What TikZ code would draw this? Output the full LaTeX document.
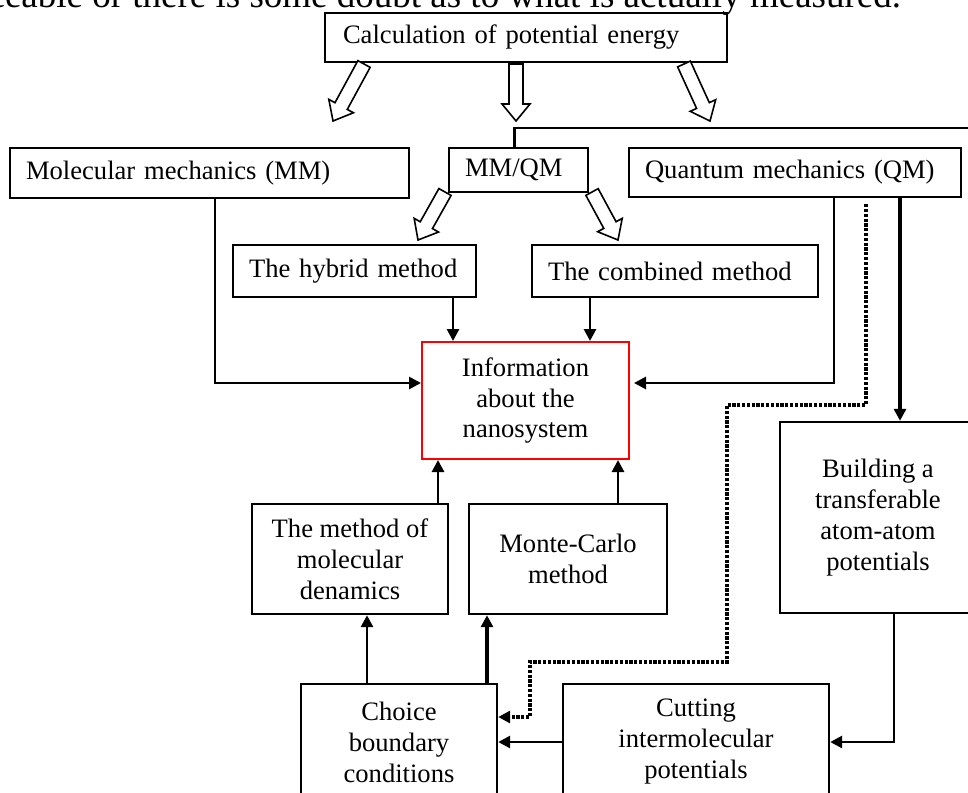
\documentclass[tikz,border=0pt]{standalone}
\usepackage{fontspec}
\setmainfont{Liberation Serif}
\usetikzlibrary{arrows.meta,calc}

\newcommand{\hollowarrow}[2]{%
  \coordinate (neck) at ($(#2)!8.5pt!(#1)$);
  \draw[hollow] ($(#1)!3.5pt!90:(#2)$) -- ($(neck)!3.5pt!90:(#2)$) -- ($(neck)!7pt!90:(#2)$) -- (#2)
    -- ($(neck)!7pt!-90:(#2)$) -- ($(neck)!3.5pt!-90:(#2)$) -- ($(#1)!3.5pt!-90:(#2)$) -- cycle;}

\begin{document}
\begin{tikzpicture}[
x=0.5pt, y=-0.5pt,
font=\fontsize{13.3}{15.5}\selectfont,
block/.style={draw, line width=1.2pt, inner sep=0pt, align=center},
lblock/.style={block, align=left, inner xsep=8pt},
arrow/.style={-{Triangle[length=6pt,width=6pt]}, line width=1.4pt},
thickarrow/.style={arrow, line width=2.2pt},
dotarrow/.style={arrow, line width=1.6pt, dash pattern=on 1.6pt off 0.8pt},
hollow/.style={draw, line width=0.8pt, fill=white, line join=miter}
]
\useasboundingbox (0,0) rectangle (968,792);
\clip (0,0) rectangle (968,792);
\node[anchor=base east, font=\fontsize{18.5}{22}\selectfont] (txt) at (908,8) {traceable or there is some doubt as to what is actually measured.};
\node[lblock, minimum width=201pt, minimum height=24.5pt, text width=183pt, inner xsep=9pt] (calc) at (526,37.5) {Calculation of potential energy};
\node[lblock, minimum width=199.5pt, minimum height=25pt, text width=183.5pt] (mm) at (209.5,173) {Molecular mechanics (MM)};
\node[lblock, minimum width=69.5pt, minimum height=22pt, text width=53.5pt] (mmqm) at (518.5,170) {MM/QM};
\node[lblock, minimum width=166pt, minimum height=24.5pt, text width=150pt] (qm) at (795,172.5) {Quantum mechanics (QM)};
\node[lblock, minimum width=121.5pt, minimum height=26pt, text width=105.5pt] (hyb) at (354.5,271) {The hybrid method};
\node[lblock, minimum width=143pt, minimum height=26pt, text width=127pt] (comb) at (675,271) {The combined method};
\node[block, draw=red, line width=1pt, minimum width=103.5pt, minimum height=58.5pt] (info) at (525.5,400.5) {Information\\about the\\nanosystem};
\node[block, minimum width=98pt, minimum height=95.5pt] (bld) at (878,517.5) {Building a\\transferable\\atom-atom\\potentials};
\node[block, minimum width=98pt, minimum height=55pt] (md) at (350,559) {The method of\\molecular\\denamics};
\node[block, minimum width=99pt, minimum height=55pt] (mc) at (568,559) {Monte-Carlo\\method};
\node[block, minimum width=98pt, minimum height=58pt] (choice) at (399,742) {Choice\\boundary\\conditions};
\node[block, minimum width=133pt, minimum height=58pt] (cut) at (696,742) {Cutting\\intermolecular\\potentials};
\coordinate (h1a) at (364,64); \coordinate (h1b) at (333,121);
\coordinate (h2a) at (516,64); \coordinate (h2b) at (516,121);
\coordinate (h3a) at (684,64); \coordinate (h3b) at (710,121);
\coordinate (h4a) at (445,192); \coordinate (h4b) at (418,240);
\coordinate (h5a) at (592,192); \coordinate (h5b) at (618,240);
\coordinate (qmtop) at (990,128);
\coordinate (d1) at (727,405);
\coordinate (d2) at (530,662);
\hollowarrow{h1a}{h1b}
\hollowarrow{h2a}{h2b}
\hollowarrow{h3a}{h3b}
\hollowarrow{h4a}{h4b}
\hollowarrow{h5a}{h5b}
\draw[line width=1.4pt] ([xshift=-2pt]mmqm.north) |- (qmtop);
\draw[arrow] ([xshift=2.75pt]mm.south) |- ([yshift=8.75pt]info.west);
\draw[arrow] ([xshift=19.5pt]qm.south) |- ([xshift=2pt,yshift=8.75pt]info.east);
\draw[arrow] ([xshift=49.25pt]hyb.south) -- ([xshift=49.25pt]hyb.south |- info.north);
\draw[arrow] ([xshift=-42.5pt]comb.south) -- ([xshift=-42.5pt]comb.south |- info.north);
\draw[arrow] ([xshift=44pt]md.north) -- ([xshift=44pt]md.north |- info.south);
\draw[arrow] ([xshift=25pt]mc.north) -- ([xshift=25pt]mc.north |- info.south);
\draw[arrow] ([xshift=-16pt]choice.north) -- ([xshift=-16pt]choice.north |- md.south);
\draw[thickarrow] ([xshift=44pt]choice.north) -- ([xshift=44pt]choice.north |- mc.south);
\draw[arrow] (cut.west) -- (cut.west -| choice.east);
\draw[arrow] ([xshift=8pt]bld.south) |- (cut.east);
\draw[thickarrow] ([xshift=52.5pt]qm.south) -- ([xshift=52.5pt]qm.south |- bld.north);
\draw[dotarrow] ([xshift=35.5pt,yshift=-3pt]qm.south) |- (d1) |- (d2) |- ([yshift=12.5pt]choice.east);
\end{tikzpicture}
\end{document}
